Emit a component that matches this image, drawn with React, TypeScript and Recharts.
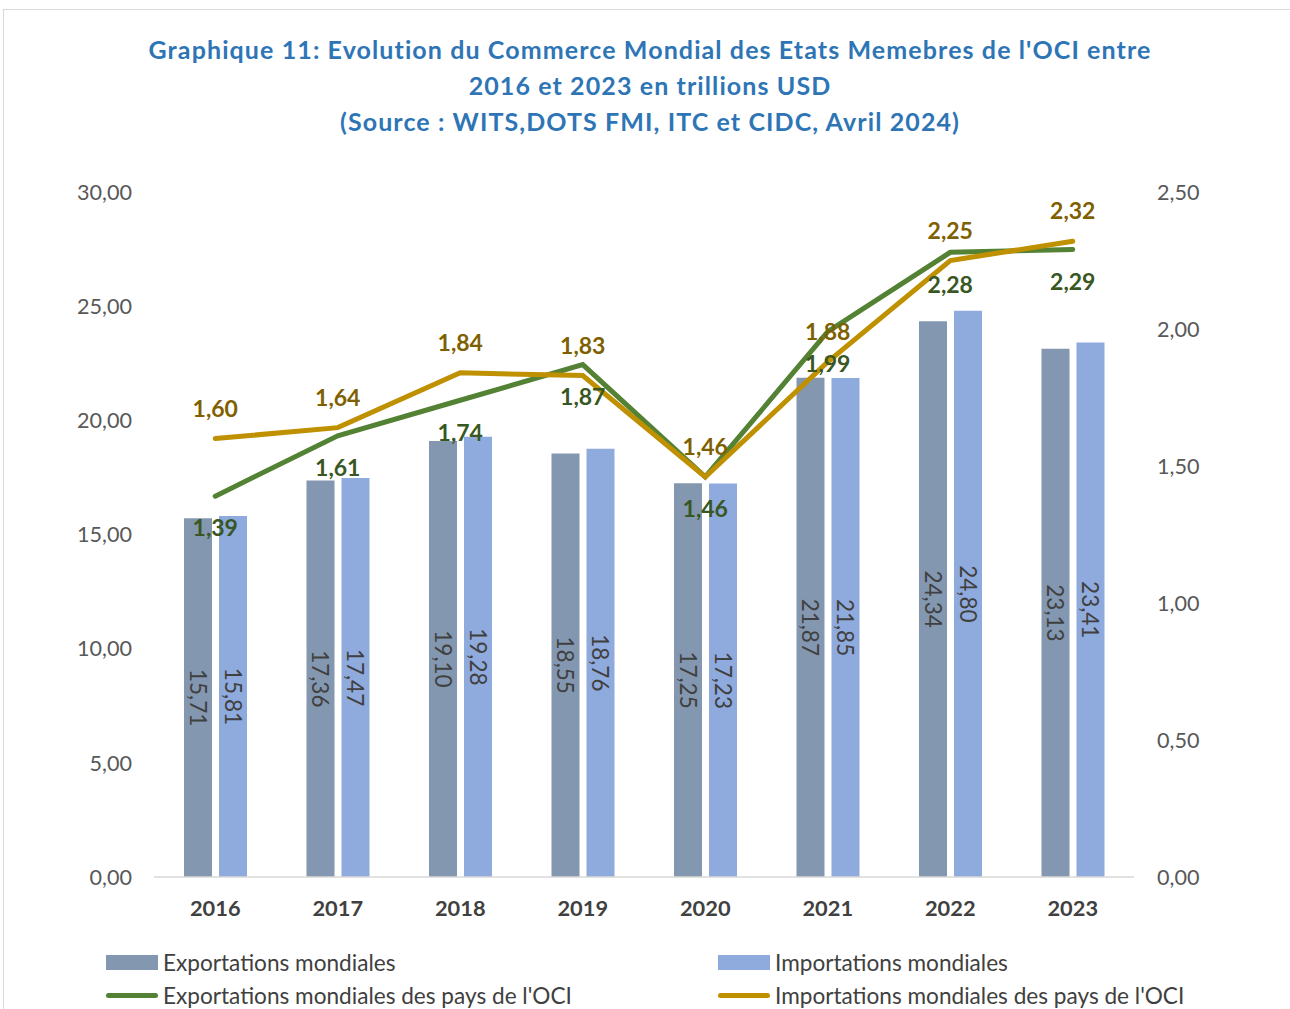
import { ComposedChart, Bar, Line, XAxis, YAxis, LabelList } from "recharts";

const years = ["2016", "2017", "2018", "2019", "2020", "2021", "2022", "2023"];
const exportsWorld = [15.71, 17.36, 19.1, 18.55, 17.25, 21.87, 24.34, 23.13];
const importsWorld = [15.81, 17.47, 19.28, 18.76, 17.23, 21.85, 24.8, 23.41];
const exportsOci = [1.39, 1.61, 1.74, 1.87, 1.46, 1.99, 2.28, 2.29];
const importsOci = [1.6, 1.64, 1.84, 1.83, 1.46, 1.88, 2.25, 2.32];
const leftTicks = [0, 5, 10, 15, 20, 25, 30];
const rightTicks = [0, 0.5, 1, 1.5, 2, 2.5];

const data = years.map((year, i) => ({
    year,
    exportsWorld: exportsWorld[i],
    importsWorld: importsWorld[i],
    exportsOci: exportsOci[i],
    importsOci: importsOci[i],
}));

const FONT = "Lato, 'Open Sans', sans-serif";
const fmt = (v: any) => Number(v).toFixed(2).replace(".", ",");

// bar values are written sideways in the middle of each bar
function SidewaysLabel(props: any) {
    const vb = props.viewBox || props;
    const cx = vb.x + vb.width / 2;
    const cy = vb.y + vb.height / 2;
    return (
        <text
            x={cx}
            y={cy}
            transform={`rotate(90, ${cx}, ${cy})`}
            textAnchor="middle"
            dominantBaseline="central"
            fill="#404040"
            fontSize={22.5}
            fontFamily={FONT}
        >
            {fmt(props.value)}
        </text>
    );
}

const legendItems = [
    { label: "Exportations mondiales", color: "#8497b0", kind: "bar", left: 106, top: 962 },
    { label: "Importations mondiales", color: "#8faadc", kind: "bar", left: 718, top: 962 },
    { label: "Exportations mondiales des pays de l'OCI", color: "#548235", kind: "line", left: 106, top: 995 },
    { label: "Importations mondiales des pays de l'OCI", color: "#bf9000", kind: "line", left: 718, top: 995 },
];

export default function App() {
    return (
        <div style={{ position: "absolute", left: 0, top: 0, width: 1290, height: 1009, background: "#fff", overflow: "hidden", fontFamily: FONT }}>
            <div style={{ position: "absolute", left: 3, top: 9, width: 1300, height: 1010, borderTop: "1px solid #d9d9d9", borderLeft: "1px solid #d9d9d9" }} />
            <div
                style={{
                    position: "absolute",
                    left: 0,
                    width: 1300,
                    top: 31,
                    textAlign: "center",
                    color: "#2e75b6",
                    fontWeight: 700,
                    fontSize: 25,
                    letterSpacing: 1.1,
                    lineHeight: "36px",
                }}
            >
                Graphique 11: Evolution du Commerce Mondial des Etats Memebres de l'OCI entre
                <br />
                2016 et 2023 en trillions USD
                <br />
                (Source : WITS,DOTS FMI, ITC et CIDC, Avril 2024)
            </div>
            <ComposedChart
                width={1290}
                height={1009}
                data={data}
                margin={{ top: 192, right: 0, bottom: 72, left: 0 }}
                barGap={7}
                style={{ position: "absolute", left: 0, top: 0 }}
            >
                <XAxis
                    dataKey="year"
                    height={60}
                    tickLine={false}
                    axisLine={{ stroke: "#d9d9d9", strokeWidth: 1.5 }}
                    tickMargin={18}
                    tick={{ fill: "#404040", fontSize: 21.8, fontWeight: 700, fontFamily: FONT }}
                />
                <YAxis
                    yAxisId="left"
                    width={154}
                    domain={[0, 30]}
                    ticks={leftTicks}
                    tickFormatter={fmt}
                    axisLine={false}
                    tickLine={false}
                    tickMargin={16}
                    tick={{ fill: "#595959", fontSize: 21.6, fontFamily: FONT }}
                />
                <YAxis
                    yAxisId="right"
                    orientation="right"
                    width={156}
                    domain={[0, 2.5]}
                    ticks={rightTicks}
                    tickFormatter={fmt}
                    axisLine={false}
                    tickLine={false}
                    tickMargin={17}
                    tick={{ fill: "#595959", fontSize: 21.6, fontFamily: FONT, textAnchor: "start" }}
                />
                <Bar yAxisId="left" dataKey="exportsWorld" fill="#8497b0" barSize={28} isAnimationActive={false}>
                    <LabelList dataKey="exportsWorld" content={<SidewaysLabel />} />
                </Bar>
                <Bar yAxisId="left" dataKey="importsWorld" fill="#8faadc" barSize={28} isAnimationActive={false}>
                    <LabelList dataKey="importsWorld" content={<SidewaysLabel />} />
                </Bar>
                <Line
                    yAxisId="right"
                    dataKey="exportsOci"
                    stroke="#548235"
                    strokeWidth={5}
                    strokeLinecap="round"
                    dot={false}
                    isAnimationActive={false}
                >
                    <LabelList
                        dataKey="exportsOci"
                        position="bottom"
                        offset={24}
                        formatter={fmt}
                        fill="#385723"
                        fontSize={23}
                        fontWeight={700}
                        fontFamily={FONT}
                    />
                </Line>
                <Line
                    yAxisId="right"
                    dataKey="importsOci"
                    stroke="#bf9000"
                    strokeWidth={5}
                    strokeLinecap="round"
                    dot={false}
                    isAnimationActive={false}
                >
                    <LabelList
                        dataKey="importsOci"
                        position="top"
                        offset={22}
                        formatter={fmt}
                        fill="#7f6000"
                        fontSize={23}
                        fontWeight={700}
                        fontFamily={FONT}
                    />
                </Line>
            </ComposedChart>
            {legendItems.map((item) => (
                <div
                    key={item.label}
                    style={{ position: "absolute", left: item.left, top: item.top - 12, height: 24, display: "flex", alignItems: "center", color: "#404040", fontSize: 22.6 }}
                >
                    {item.kind === "bar" ? (
                        <span style={{ display: "inline-block", width: 52, height: 15, background: item.color, marginRight: 5 }} />
                    ) : (
                        <span style={{ display: "inline-block", width: 52, height: 5, borderRadius: 3, background: item.color, marginRight: 5 }} />
                    )}
                    <span>{item.label}</span>
                </div>
            ))}
        </div>
    );
}
